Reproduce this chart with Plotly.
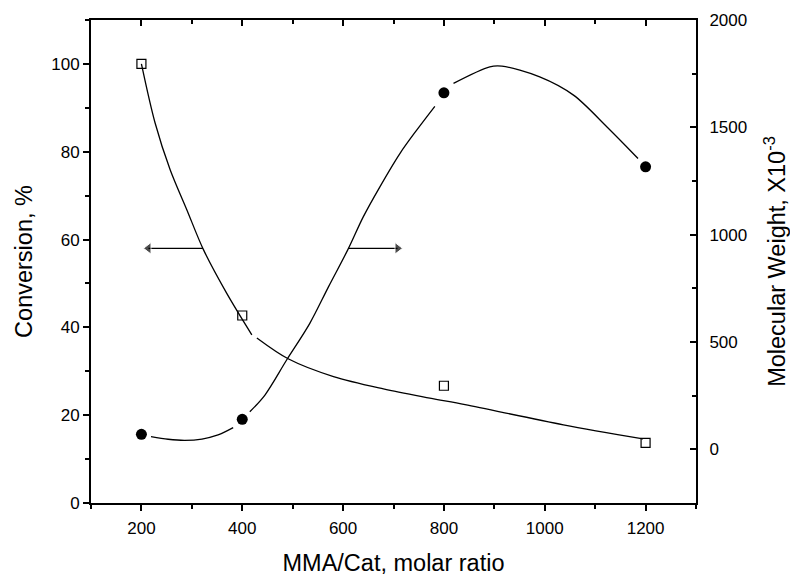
import plotly.graph_objects as go

# ---- data ----
ratio = [200, 400, 800, 1200]
conversion = [100, 42.7, 26.7, 13.7]
mol_weight = [70, 140, 1661, 1316]

# fitted curves (None = gap in the drawn line)
conv_curve_x = [200, 227, 257, 290, 323, 369, 419, None,
                429, 492, 581, 680, 772, 842, 1037, 1195]
conv_curve_y = [100, 86.6, 75.9, 66.8, 57.7, 47.8, 38.3, None,
                37.6, 32.8, 28.8, 26.0, 23.9, 22.4, 17.8, 14.6]

mw_curve_x = [219, 253, 286, 320, 352, 382, None,
              415, 445, 488, 534, 571, 609, 640, 673, 713, 746, 782, None,
              819, 891, 915, 990, 1057, 1123, 1185]
mw_curve_y = [59, 47, 42, 48, 67, 101, None,
              175, 253, 416, 587, 757, 928, 1083, 1223, 1379, 1487, 1598, None,
              1705, 1782, 1785, 1735, 1650, 1503, 1355]

x_ticks = [200, 400, 600, 800, 1000, 1200]
conv_ticks = [0, 20, 40, 60, 80, 100]
mw_ticks = [0, 500, 1000, 1500, 2000]

# direction arrows (tail x, head x, level on the conversion axis)
arrow_left = [322, 214]
arrow_right = [610, 708]
arrow_level = 58

FONT = "Liberation Sans, Arial, sans-serif"
TITLE_SIZE = 23.5

fig = go.Figure()

fig.add_trace(go.Scatter(x=conv_curve_x, y=conv_curve_y, mode="lines",
                         line=dict(color="black", width=1.3, shape="spline", smoothing=0.9),
                         connectgaps=False, showlegend=False, hoverinfo="skip"))
fig.add_trace(go.Scatter(x=mw_curve_x, y=mw_curve_y, mode="lines", yaxis="y2",
                         line=dict(color="black", width=1.3, shape="spline", smoothing=0.9),
                         connectgaps=False, showlegend=False, hoverinfo="skip"))
fig.add_trace(go.Scatter(x=ratio, y=conversion, mode="markers",
                         marker=dict(symbol="square-open", size=9, color="black",
                                     line=dict(width=1.2, color="black")),
                         showlegend=False))
fig.add_trace(go.Scatter(x=ratio, y=mol_weight, mode="markers", yaxis="y2",
                         marker=dict(symbol="circle", size=11, color="black"),
                         showlegend=False))

# arrows drawn as a line ending in a triangle marker
for xs, sym in ((arrow_left, "triangle-left"), (arrow_right, "triangle-right")):
    fig.add_trace(go.Scatter(x=xs, y=[arrow_level, arrow_level], mode="lines+markers",
                             line=dict(color="black", width=1.4),
                             marker=dict(symbol=sym, size=[0, 10], color="black"),
                             showlegend=False, hoverinfo="skip"))

# invisible trace to keep the top axis alive
fig.add_trace(go.Scatter(x=ratio, y=conversion, xaxis="x2", mode="markers",
                         marker=dict(opacity=0), showlegend=False, hoverinfo="skip"))

axis_common = dict(showgrid=False, zeroline=False, showline=True, linecolor="black",
                   linewidth=2, tickcolor="black", tickwidth=1.5, automargin=False,
                   tickfont=dict(family=FONT, size=17, color="black"))

fig.update_layout(
    width=790, height=576,
    margin=dict(l=91, r=94, t=20, b=73),
    paper_bgcolor="white", plot_bgcolor="white",
    xaxis=dict(**axis_common, range=[100, 1300], tickvals=x_ticks, ticks="outside",
               ticklen=6, ticklabelstandoff=3,
               minor=dict(dtick=100, tick0=100, ticks="outside", ticklen=4,
                          tickwidth=1.5, tickcolor="black"),
               title=dict(text="MMA/Cat, molar ratio", standoff=20,
                          font=dict(family=FONT, size=TITLE_SIZE, color="black"))),
    xaxis2=dict(**axis_common, range=[100, 1300], overlaying="x", side="top",
                tickvals=x_ticks, ticks="inside", ticklen=6, showticklabels=False,
                minor=dict(dtick=100, tick0=100, ticks="inside", ticklen=4,
                           tickwidth=1.5, tickcolor="black")),
    yaxis=dict(**axis_common, range=[0, 110], tickvals=conv_ticks, ticks="outside",
               ticklen=6,
               minor=dict(dtick=10, tick0=0, ticks="outside", ticklen=4,
                          tickwidth=1.5, tickcolor="black"),
               title=dict(text="Conversion, %", standoff=12,
                          font=dict(family=FONT, size=TITLE_SIZE, color="black"))),
    yaxis2=dict(**axis_common, range=[-250, 2000], overlaying="y", side="right",
                tickvals=mw_ticks, ticks="inside", ticklen=6, ticklabelstandoff=8,
                minor=dict(dtick=250, tick0=0, ticks="inside", ticklen=4,
                           tickwidth=1.5, tickcolor="black"),
                title=dict(text="Molecular Weight, X10<sup>-3</sup>", standoff=30,
                           font=dict(family=FONT, size=TITLE_SIZE, color="black"))),
)

fig.write_html("out.html")
